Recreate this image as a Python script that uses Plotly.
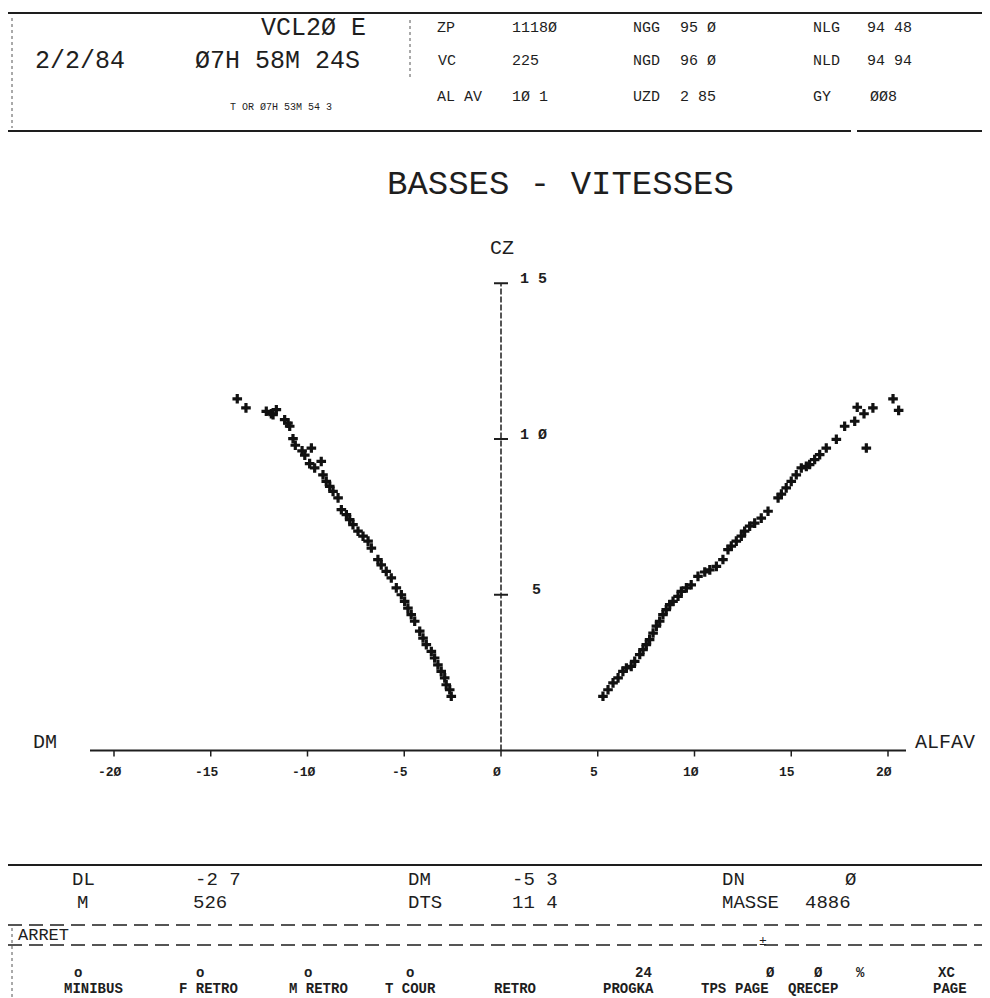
import plotly.graph_objects as go

# Points relevés (ALFAV en degrés, CZ) - branche gauche et branche droite
alfav_gauche = [-13.63, -13.18, -12.13, -11.87, -11.61, -11.78, -11.18, -11.01, -10.92, -10.75,
                -10.63, -10.28, -10.14, -9.80, -9.89, -9.63, -9.29, -9.20, -9.03, -8.85,
                -8.68, -8.42, -8.25, -7.99, -7.82, -7.65, -7.39, -7.13, -6.87, -6.70,
                -6.36, -6.19, -5.93, -5.67, -5.41, -5.15, -4.98, -4.81, -4.64, -4.46,
                -4.20, -4.03, -3.86, -3.60, -3.43, -3.26, -3.09, -2.91, -2.83, -2.65, -2.57]
cz_gauche = [1.129, 1.100, 1.089, 1.081, 1.094, 1.078, 1.062, 1.051, 1.041, 1.001,
             0.980, 0.962, 0.948, 0.971, 0.921, 0.907, 0.928, 0.885, 0.864, 0.848,
             0.832, 0.811, 0.773, 0.757, 0.741, 0.725, 0.704, 0.688, 0.672, 0.650,
             0.613, 0.596, 0.575, 0.554, 0.522, 0.500, 0.479, 0.457, 0.436, 0.415,
             0.383, 0.361, 0.340, 0.318, 0.297, 0.275, 0.254, 0.233, 0.211, 0.195, 0.174]

alfav_droite = [5.27, 5.53, 5.79, 6.05, 6.30, 6.48, 6.73, 6.91, 7.17, 7.34,
                7.51, 7.68, 7.86, 8.03, 8.20, 8.37, 8.54, 8.72, 8.89, 9.15,
                9.32, 9.58, 9.83, 10.18, 10.53, 10.79, 11.13, 11.47, 11.73, 11.90,
                12.16, 12.42, 12.59, 12.85, 13.11, 13.45, 13.80, 14.32, 14.49, 14.74,
                15.00, 15.26, 15.52, 15.78, 15.95, 16.21, 16.47, 16.81, 17.33, 17.76,
                18.28, 18.41, 18.76, 19.22, 20.26, 20.55, 18.88]
cz_droite = [0.174, 0.195, 0.217, 0.233, 0.254, 0.265, 0.270, 0.286, 0.308, 0.324,
             0.340, 0.356, 0.377, 0.399, 0.415, 0.436, 0.452, 0.468, 0.479, 0.495,
             0.511, 0.522, 0.532, 0.559, 0.573, 0.580, 0.591, 0.613, 0.645, 0.656,
             0.672, 0.688, 0.704, 0.720, 0.730, 0.746, 0.768, 0.811, 0.823, 0.843,
             0.864, 0.885, 0.907, 0.912, 0.918, 0.934, 0.950, 0.971, 0.999, 1.041,
             1.057, 1.102, 1.081, 1.100, 1.129, 1.092, 0.971]

x_ticks = [-20, -15, -10, -5, 0, 5, 10, 15, 20]
x_tick_labels = ["-2Ø", "-15", "-1Ø", "-5", "Ø", "5", "1Ø", "15", "2Ø"]
y_ticks = [0.5, 1.0, 1.5]
y_tick_labels = ["5", "1 Ø", "1 5"]

W, H = 990, 998
X0, XS = 493, 19.35      # pixel du zero et pixels par degre
Y0, YS = 742.5, 311.5    # pixel du zero et pixels par unite de CZ
FONT = "Liberation Mono"
INK = "#1e1e1e"

fig = go.Figure()

for xs, ys in [(alfav_gauche, cz_gauche), (alfav_droite, cz_droite)]:
    fig.add_trace(go.Scatter(x=xs, y=ys, mode="markers",
                             marker=dict(symbol="cross", size=8, color="#111111",
                                         line=dict(width=0))))


def txt(s, x, y, size, anchor="left", bold=False):
    fig.add_annotation(text=s, x=x / W, y=1 - y / H, xref="paper", yref="paper",
                       xanchor=anchor, yanchor="middle", showarrow=False,
                       font=dict(family=FONT, size=size, color=INK,
                                 weight="bold" if bold else "normal"))


def hline(y, x0=0, x1=W, width=2, dash="solid"):
    fig.add_shape(type="line", xref="paper", yref="paper",
                  x0=x0 / W, x1=x1 / W, y0=1 - y / H, y1=1 - y / H,
                  line=dict(color=INK, width=width, dash=dash))


def vline(x, y0, y1, width=1, dash="dot"):
    fig.add_shape(type="line", xref="paper", yref="paper",
                  x0=x / W, x1=x / W, y0=1 - y0 / H, y1=1 - y1 / H,
                  line=dict(color="#555555", width=width, dash=dash))


# axes du graphe
fig.add_shape(type="line", xref="x", yref="y", x0=(82 - X0) / XS, x1=(898 - X0) / XS,
              y0=0, y1=0, line=dict(color=INK, width=2))
fig.add_shape(type="line", xref="x", yref="y", x0=0, x1=0, y0=0, y1=y_ticks[-1],
              line=dict(color=INK, width=1.5, dash="6px,2px"))
for t, lab in zip(x_ticks, x_tick_labels):
    fig.add_shape(type="line", xref="x", yref="y", x0=t, x1=t, y0=0, y1=-6 / YS,
                  line=dict(color=INK, width=1.5))
    fig.add_annotation(text=lab, x=t, y=0, xref="x", yref="y", showarrow=False,
                       xanchor="center", yanchor="middle", xshift=-4, yshift=-22,
                       font=dict(family=FONT, size=13, color=INK, weight="bold"))
for t, lab in zip(y_ticks, y_tick_labels):
    fig.add_shape(type="line", xref="x", yref="y", x0=-7 / XS, x1=7 / XS, y0=t, y1=t,
                  line=dict(color=INK, width=2))
    fig.add_annotation(text=lab, x=0, y=t, xref="x", yref="y", showarrow=False,
                       xanchor="left", yanchor="middle",
                       xshift=29 if len(lab) == 1 else 17, yshift=4,
                       font=dict(family=FONT, size=15, color=INK, weight="bold"))

txt("DM", 23, 734, 20)
txt("ALFAV", 905, 734, 20)
txt("CZ", 494, 241, 20, anchor="center")
txt("BASSES - VITESSES", 552, 177, 34, anchor="center")

# en-tete
hline(5)
hline(123, 0, 843)
hline(123, 849, W)
vline(4, 10, 120)
vline(402, 12, 72)
txt("VCL2Ø E", 305, 20, 25, anchor="center")
txt("2/2/84", 25, 54, 25)
txt("Ø7H 58M 24S", 185, 54, 25)
txt("T OR Ø7H 53M 54 3", 220, 100, 10)
for row_y, cells in [(20, [("ZP", 427), ("1118Ø", 502), ("NGG", 623), ("95 Ø", 670),
                           ("NLG", 803), ("94 48", 857)]),
                     (54, [("VC", 428), ("225", 502), ("NGD", 623), ("96 Ø", 670),
                           ("NLD", 803), ("94 94", 857)]),
                     (89, [("AL AV", 427), ("1Ø 1", 502), ("UZD", 623), ("2 85", 670),
                           ("GY", 803), ("ØØ8", 860)])]:
    for s, x in cells:
        txt(s, x, row_y, 15)

# bandeau bas
hline(857)
hline(917, width=1.5, dash="14px,7px")
hline(937, width=1.5, dash="14px,7px")
vline(4, 920, 998)
for s, x, y in [("DL", 62, 872), ("-2 7", 185, 872), ("DM", 398, 872), ("-5 3", 502, 872),
                ("DN", 712, 872), ("Ø", 835, 872),
                ("M", 67, 895), ("526", 183, 895), ("DTS", 398, 895), ("11 4", 502, 895),
                ("MASSE", 712, 895), ("4886", 795, 895)]:
    txt(s, x, y, 19)
txt("ARRET", 8, 927, 17)
txt("±", 755, 933, 13, anchor="center")
for s, x in [("o", 70), ("o", 192), ("o", 300), ("o", 402), ("24", 635), ("Ø", 762),
             ("Ø", 810), ("%", 852), ("XC", 938)]:
    txt(s, x, 965, 14, anchor="center", bold=True)
for s, x in [("MINIBUS", 85), ("F RETRO", 200), ("M RETRO", 310), ("T COUR", 402),
             ("RETRO", 507), ("PROGKA", 620), ("TPS", 705), ("PAGE", 744),
             ("QRECEP", 805), ("PAGE", 942)]:
    txt(s, x, 981, 14, anchor="center", bold=True)

fig.update_layout(
    width=W, height=H, margin=dict(l=0, r=0, t=0, b=0),
    paper_bgcolor="white", plot_bgcolor="white", showlegend=False,
    xaxis=dict(range=[-X0 / XS, (W - X0) / XS], visible=False, fixedrange=True),
    yaxis=dict(range=[-(H - Y0) / YS, Y0 / YS], visible=False, fixedrange=True),
)

fig.write_html("out.html")
